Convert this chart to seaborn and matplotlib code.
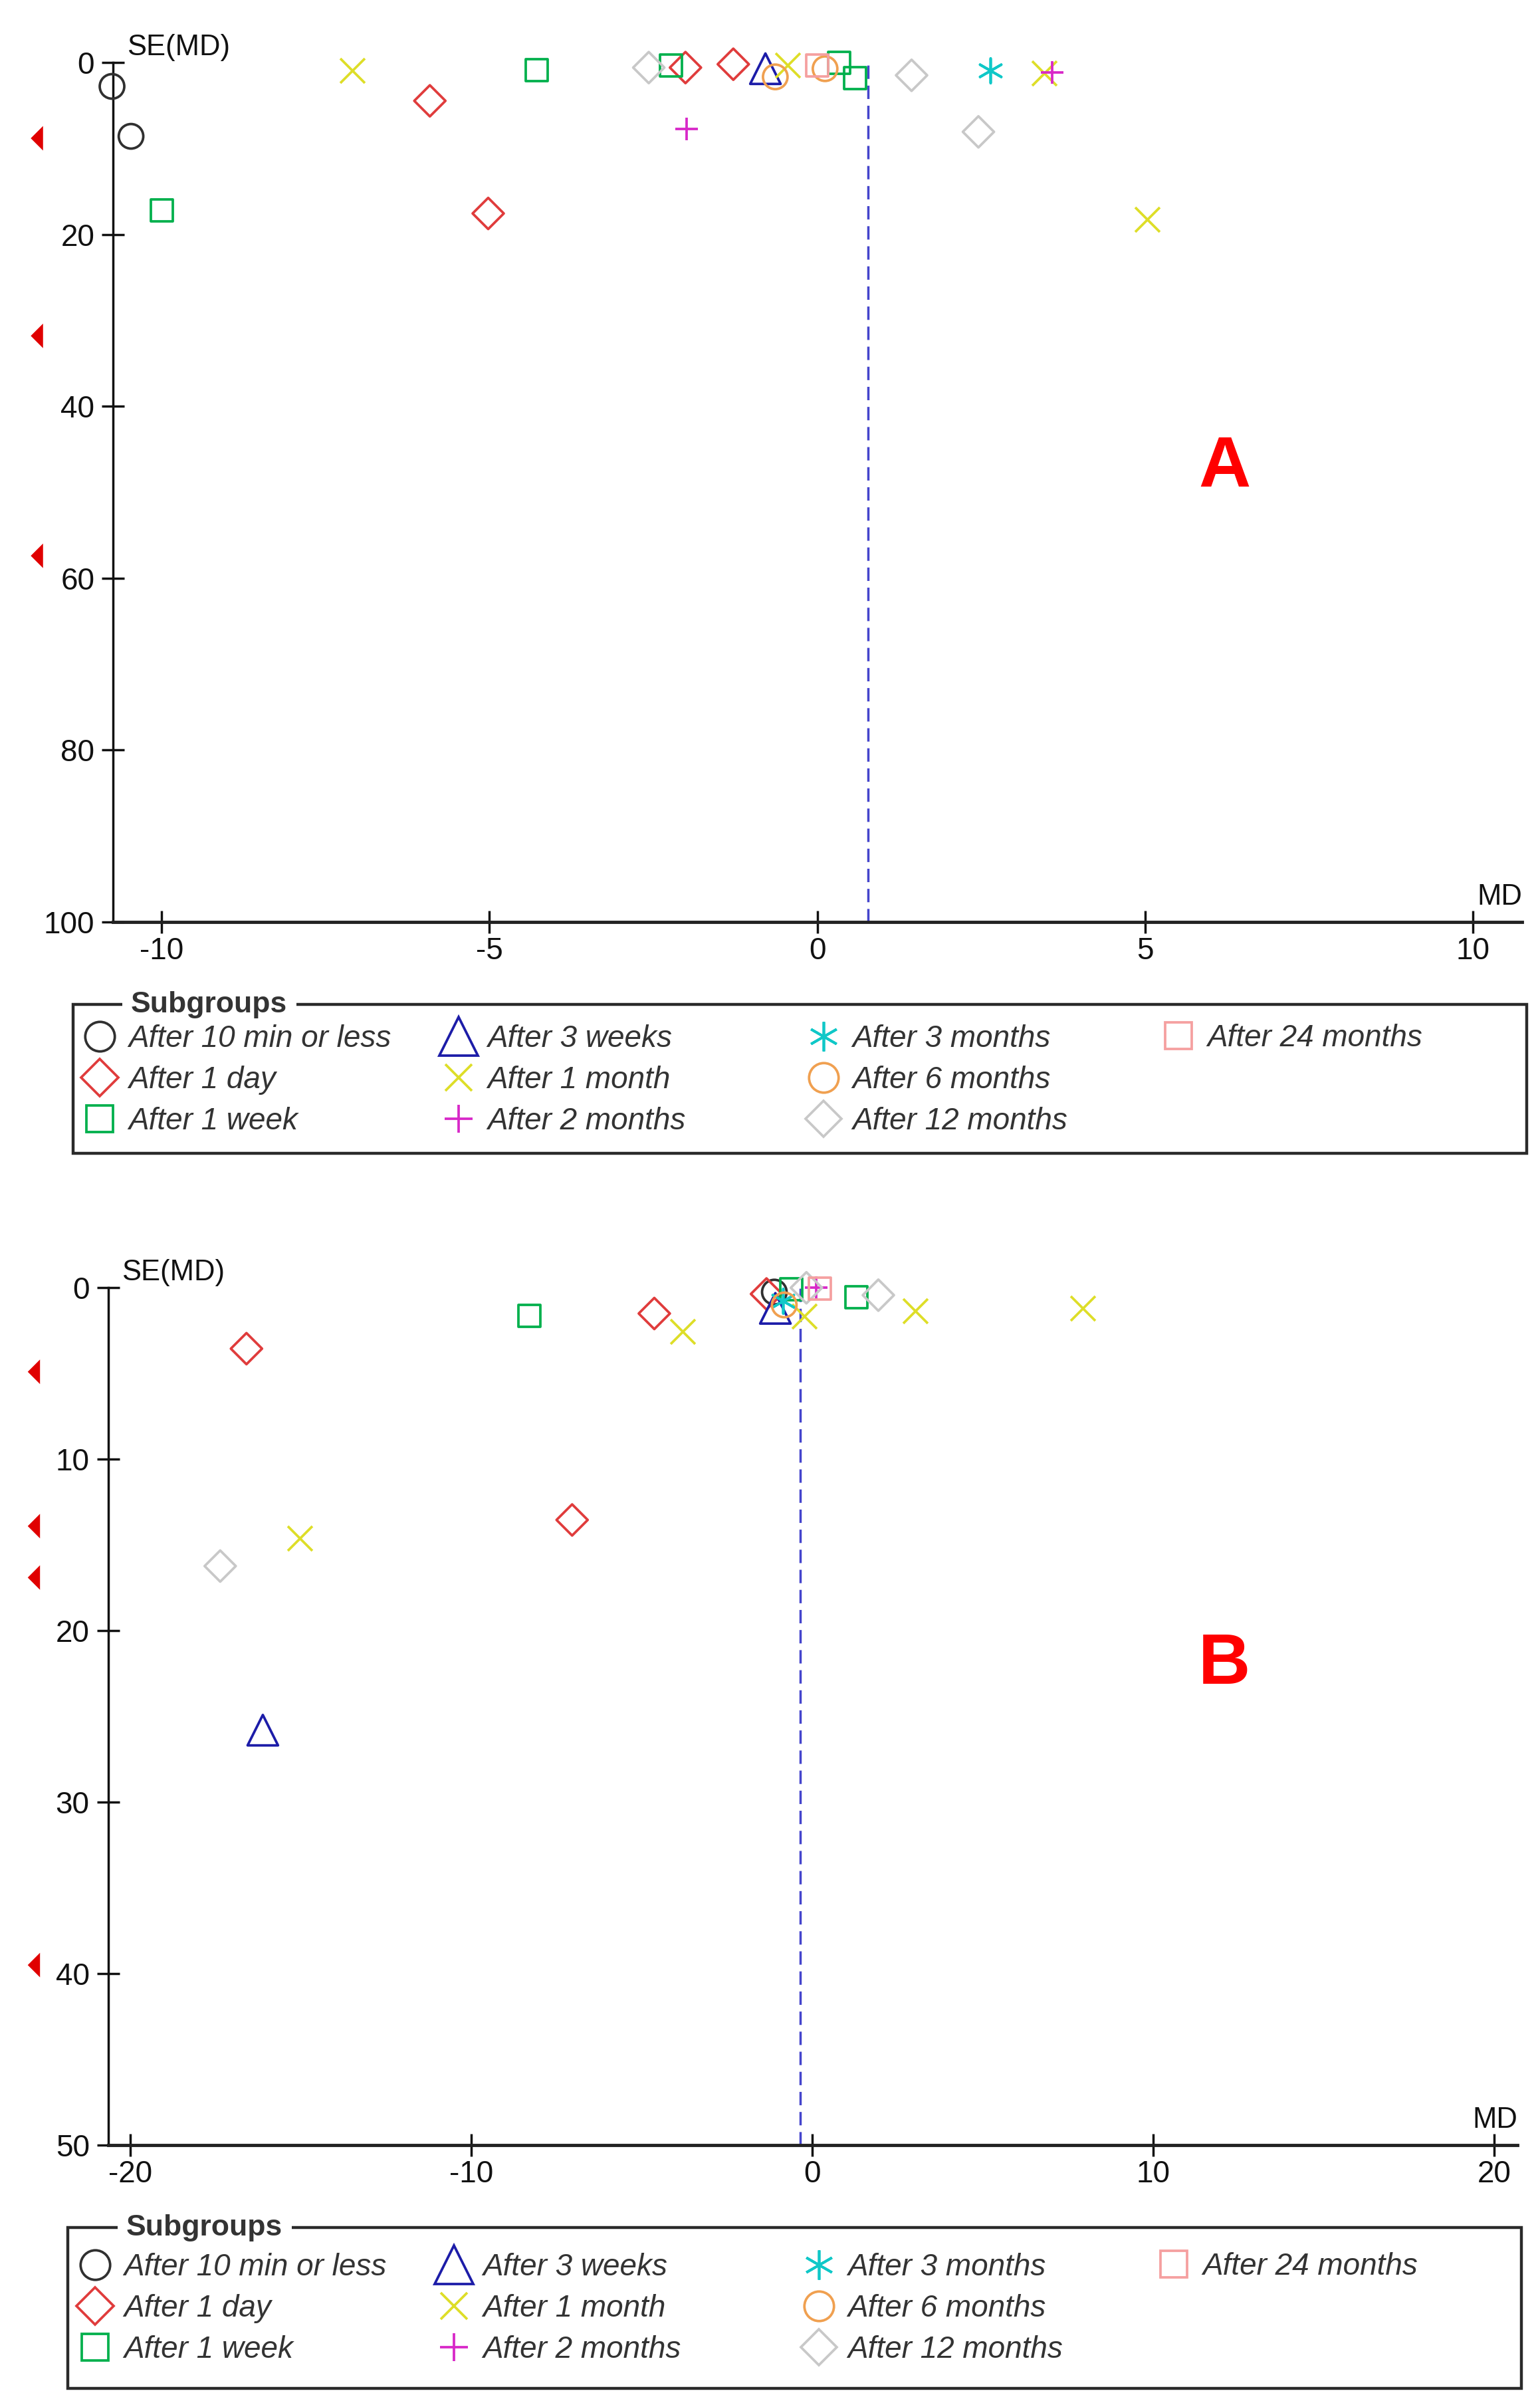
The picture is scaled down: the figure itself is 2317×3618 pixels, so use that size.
import numpy as np
import pandas as pd
import matplotlib
matplotlib.use("Agg")
import matplotlib.pyplot as plt
import seaborn as sns
from matplotlib.lines import Line2D
from matplotlib.legend import Legend
from matplotlib.patches import Rectangle

sns.set_style("white")
plt.rcParams['font.family'] = ['Liberation Sans', 'DejaVu Sans']
plt.rcParams['axes.unicode_minus'] = False

# ---------------- data ----------------
groups = ["After 10 min or less", "After 1 day", "After 1 week",
          "After 3 weeks", "After 1 month", "After 2 months",
          "After 3 months", "After 6 months", "After 12 months",
          "After 24 months"]
colors = ['#303030', '#E03C3C', '#00B04C', '#1C1CA8', '#DEDE28',
          '#D828C8', '#10C8C8', '#F0A050', '#C8C8C8', '#F5A0A0']
markers = ['o', 'D', 's', '^', 'x', '+', (6, 2, 0), 'o', 'D', 's']
plot_ms = [26.6, 23.9, 23.8, 33.0, 26.6, 24.5, 26.6, 26.6, 23.9, 23.8]
legend_ms = [32, 29, 29.5, 42, 29, 30, 32, 32, 28, 29]

# Panel A
a_grp = (["After 10 min or less"] * 2 + ["After 1 day"] * 4 + ["After 1 week"] * 5
         + ["After 3 weeks"] * 1 + ["After 1 month"] * 4 + ["After 2 months"] * 2
         + ["After 3 months"] * 1 + ["After 6 months"] * 2 + ["After 12 months"] * 3
         + ["After 24 months"] * 1)
a_md = [-10.76, -10.47,
        -5.91, -2.01, -1.28, -5.02,
        -4.28, -2.23, 0.33, 0.58, -10.0,
        -0.79,
        -7.09, -0.45, 3.46, 5.04,
        -1.99, 3.59,
        2.64,
        -0.64, 0.12,
        -2.57, 1.44, 2.46,
        0.0]
a_se = [2.76, 8.57,
        4.44, 0.57, 0.18, 17.55,
        0.9, 0.31, 0.05, 1.8, 17.2,
        0.7,
        0.9, 0.25, 1.2, 18.2,
        7.74, 1.16,
        0.9,
        1.65, 0.7,
        0.57, 1.47, 8.05,
        0.31]
a_offscale_se = [8.8, 31.8, 57.4]
a_pooled = 0.78
a_xticks = [-10, -5, 0, 5, 10]
a_yticks = [0, 20, 40, 60, 80, 100]

# Panel B
b_grp = (["After 10 min or less"] * 1 + ["After 1 day"] * 4 + ["After 1 week"] * 3
         + ["After 3 weeks"] * 2 + ["After 1 month"] * 5 + ["After 2 months"] * 1
         + ["After 3 months"] * 1 + ["After 6 months"] * 1 + ["After 12 months"] * 3
         + ["After 24 months"] * 1)
b_md = [-1.11,
        -16.59, -4.63, -7.04, -1.34,
        -8.29, -0.61, 1.29,
        -16.11, -1.08,
        -3.81, -15.03, -0.23, 3.02, 7.94,
        0.12,
        -0.85,
        -0.82,
        -17.36, -0.17, 1.94,
        0.22]
b_se = [0.25,
        3.55, 1.5, 13.54, 0.36,
        1.63, 0.1, 0.56,
        25.8, 1.2,
        2.53, 14.6, 1.65, 1.33, 1.2,
        0.0,
        0.75,
        1.0,
        16.23, 0.0, 0.43,
        0.05]
b_offscale_se = [4.9, 13.9, 16.9, 39.5]
b_pooled = -0.36
b_xticks = [-20, -10, 0, 10, 20]
b_yticks = [0, 10, 20, 30, 40, 50]

dfA = pd.DataFrame({"group": a_grp, "MD": a_md, "SE": a_se})
dfB = pd.DataFrame({"group": b_grp, "MD": b_md, "SE": b_se})

# ---------------- layout ----------------
W, H = 2317, 3618
fig = plt.figure(figsize=(W / 100, H / 100), dpi=100)


def px_axes(l, t, r, b):
    return fig.add_axes([l / W, 1 - b / H, (r - l) / W, (b - t) / H])


axA = px_axes(170, 94.3, 2290, 1386.7)
axB = px_axes(162.5, 1937.3, 2283, 3227)

FS = 33
MLW = 2.7


def draw_panel(ax, df, offscale, off_x, pooled, xlim, ylim, xticks, yticks, letter, letter_pos):
    ax.set_xlim(*xlim)
    ax.set_ylim(ylim[1], ylim[0])
    ax.axvline(pooled, color='#4444CC', lw=2.5, ls=(0, (5.8, 2.9)), zorder=1)
    for i, g in enumerate(groups):
        sub = df[df["group"] == g]
        if len(sub) == 0:
            continue
        m = markers[i]
        kw = dict(marker=m, s=plot_ms[i] ** 2, linewidth=MLW, clip_on=False,
                  zorder=3, legend=False, ax=ax)
        if m in ('x', '+') or isinstance(m, tuple):
            sns.scatterplot(data=sub, x="MD", y="SE", color=colors[i], **kw)
        else:
            sns.scatterplot(data=sub, x="MD", y="SE", color=colors[i],
                            facecolor='none', edgecolor=colors[i], **kw)
    # off-scale indicators (studies outside the x-range)
    off = pd.DataFrame({"x": np.full(len(offscale), off_x), "SE": offscale})
    sns.scatterplot(data=off, x="x", y="SE", ax=ax, marker=[(-1, 0), (1, 2), (1, -2)],
                    s=26.6 ** 2, color='#E00000', edgecolor='none', linewidth=0,
                    transform=ax.get_yaxis_transform(), clip_on=False, legend=False, zorder=3)
    for s in ['top', 'right']:
        ax.spines[s].set_visible(False)
    ax.spines['left'].set_linewidth(2.5)
    ax.spines['bottom'].set_linewidth(3.5)
    ax.spines['left'].set_color('#111111')
    ax.spines['bottom'].set_color('#222222')
    ax.set_xticks(xticks)
    ax.set_yticks(yticks)
    ax.tick_params(axis='y', direction='inout', length=24, width=2.5, pad=8,
                   labelsize=FS, colors='#111111', left=True)
    ax.tick_params(axis='x', direction='inout', length=24, width=2.5, pad=4,
                   labelsize=FS, colors='#111111', bottom=True)
    ax.set_xlabel("")
    ax.set_ylabel("")
    ax.annotate("SE(MD)", xy=(0, 1), xycoords='axes fraction', xytext=(15, 2),
                textcoords='offset points', ha='left', va='bottom', fontsize=FS * 0.95,
                color='#111111')
    ax.annotate("MD", xy=(1, 0), xycoords='axes fraction', xytext=(0, 12),
                textcoords='offset points', ha='right', va='bottom', fontsize=FS * 0.95,
                color='#111111')
    ax.text(letter_pos[0], letter_pos[1], letter, transform=ax.transAxes, ha='center',
            va='center', fontsize=78, fontweight='bold', color='#FF0000')


draw_panel(axA, dfA, a_offscale_se, -0.054, a_pooled, (-10.745, 10.755), (0, 100),
           a_xticks, a_yticks, "A", (0.789, 0.528))
draw_panel(axB, dfB, b_offscale_se, -0.0526, b_pooled, (-20.65, 20.68), (0, 50),
           b_xticks, b_yticks, "B", (0.792, 0.56))

# ---------------- legends ----------------
ov = fig.add_axes([0, 0, 1, 1])
ov.set_xlim(0, W)
ov.set_ylim(H, 0)
ov.axis('off')
ov.patch.set_visible(False)


def draw_legend(box, title_x, rows_y, cols_x):
    L, T, R, B = box
    ov.add_patch(Rectangle((L, T), R - L, B - T, fill=False, lw=3.2, edgecolor='#2a2a2a'))
    ov.text(title_x, T, "Subgroups", ha='left', va='center', fontsize=FS * 0.97,
            fontweight='bold', color='#333333',
            bbox=dict(boxstyle='square,pad=0.3', facecolor='white', edgecolor='none'))
    hl_px = 1.0 * FS * 100 / 72
    for ci, x in enumerate(cols_x):
        idx = list(range(ci * 3, min(ci * 3 + 3, len(groups))))
        handles = [Line2D([], [], linestyle='none', marker=markers[i], markersize=legend_ms[i],
                          markerfacecolor='none', markeredgecolor=colors[i],
                          markeredgewidth=MLW) for i in idx]
        y_anchor = rows_y[1] if len(idx) == 3 else rows_y[0]
        leg = Legend(ov, handles, [groups[i] for i in idx], loc='center left',
                     bbox_to_anchor=(x - hl_px / 2, y_anchor), bbox_transform=ov.transData,
                     frameon=False, borderpad=0, borderaxespad=0, handlelength=1.0,
                     handleheight=0.7, handletextpad=0.44, labelspacing=0.4,
                     prop=dict(family=['Liberation Sans', 'DejaVu Sans'], style='italic', size=FS),
                     labelcolor='#333333')
        ov.add_artist(leg)


draw_legend((110, 1511, 2297, 1735), 197, (1562, 1625, 1687), (150, 690, 1239, 1773))
draw_legend((102, 3351, 2289, 3593), 190, (3410, 3473, 3535), (143, 683, 1232, 1766))

fig.savefig("out.png", dpi=100, facecolor='white')
